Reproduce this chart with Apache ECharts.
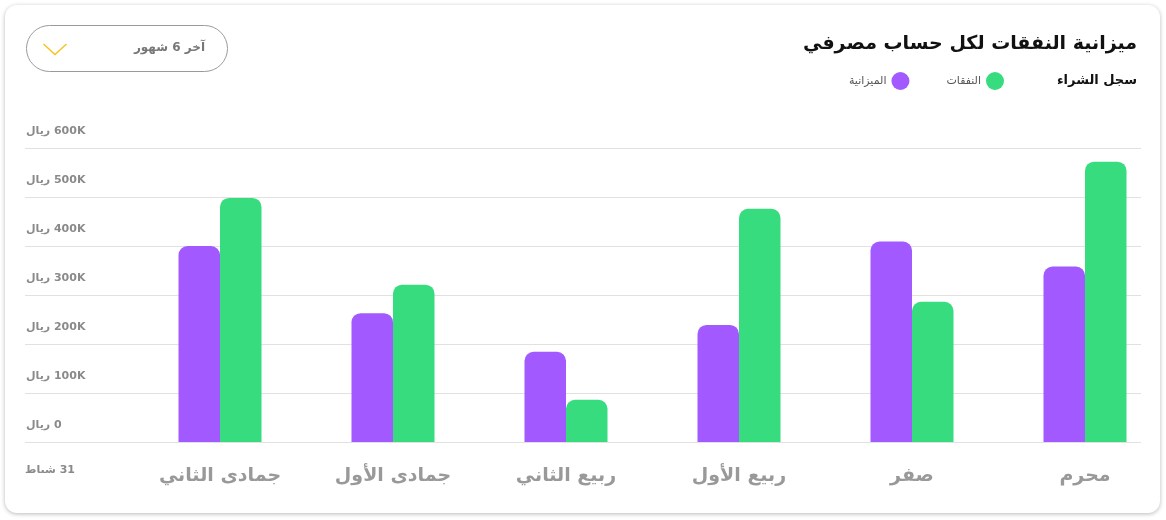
<!DOCTYPE html>
<html>
<head>
<meta charset="utf-8">
<script src="https://cdn.jsdelivr.net/npm/echarts@6/dist/echarts.min.js"></script>
<style>
  html, body { margin:0; padding:0; background:#ffffff; width:1166px; height:520px; overflow:hidden; }
  #card { position:absolute; left:5px; top:5px; width:1155px; height:508px; border-radius:12px;
          background:#fff; box-shadow:0 1px 4px rgba(0,0,0,0.28); }
  #chart { position:absolute; left:0; top:0; width:1166px; height:520px; }
</style>
</head>
<body>
<div id="card"></div>
<div id="chart"></div>
<script>
// Data (values in thousands of riyal)
const categories = ['محرم', 'صفر', 'ربيع الأول', 'ربيع الثاني', 'جمادى الأول', 'جمادى الثاني'];
const budget   = [358, 409, 239, 184, 263, 400];   // الميزانية
const expenses = [572, 286, 476, 86, 321, 498];    // النفقات
const seriesNames = ['الميزانية', 'النفقات'];
const yTicks = [0, 100, 200, 300, 400, 500, 600];
const titleText = 'ميزانية النفقات لكل حساب مصرفي';
const legendTitle = 'سجل الشراء';
const periodText = 'آخر 6 شهور';
const bottomLabel = 'شباط\u200E 31';

const FONT = "'DejaVu Sans', sans-serif";
const chart = echarts.init(document.getElementById('chart'), null, { renderer: 'canvas' });

const option = {
  backgroundColor: 'transparent',
  animation: false,
  title: {
    text: titleText,
    right: 29, top: 35, padding: 0,
    textStyle: { fontFamily: FONT, fontSize: 19, fontWeight: 'bold', color: '#111' }
  },
  legend: {
    data: seriesNames,
    right: 157, top: 67,
    align: 'right',
    icon: 'circle',
    itemWidth: 18, itemHeight: 18,
    itemGap: 37,
    textStyle: { fontFamily: FONT, fontSize: 11, color: '#555' }
  },
  grid: [
    { left: 133.5, width: 1038, top: 148, bottom: 78, outerBoundsMode: 'none', containLabel: false },
    { left: 25, right: 25, top: 148, bottom: 78, outerBoundsMode: 'none', containLabel: false }
  ],
  xAxis: [
    {
      type: 'category', gridIndex: 0, data: categories, inverse: true,
      axisLine: { show: false }, axisTick: { show: false },
      axisLabel: { margin: 25, fontFamily: FONT, fontSize: 19, fontWeight: 'bold', color: '#999' }
    },
    { type: 'value', gridIndex: 1, show: false, min: 0, max: 1 }
  ],
  yAxis: [
    { type: 'value', gridIndex: 0, min: 0, max: 600, show: false },
    {
      type: 'value', gridIndex: 1, min: 0, max: 600, interval: 100,
      axisLine: { show: false }, axisTick: { show: false },
      splitLine: { lineStyle: { color: '#e1e1e1', width: 1 } },
      axisLabel: {
        inside: true, margin: 1, align: 'left', verticalAlign: 'bottom',
        padding: [0, 0, 11, 0],
        fontFamily: FONT, fontSize: 11, fontWeight: 'bold', color: '#8a8a8a',
        formatter: v => 'ريال\u200E ' + (v === 0 ? '0' : v + 'K')
      }
    }
  ],
  series: [
    {
      name: seriesNames[0], type: 'bar', xAxisIndex: 0, yAxisIndex: 0,
      data: budget, barWidth: 41.5, barGap: '0%',
      itemStyle: { color: '#a259ff', borderRadius: [9, 9, 0, 0] }
    },
    {
      name: seriesNames[1], type: 'bar', xAxisIndex: 0, yAxisIndex: 0,
      data: expenses, barWidth: 41.5, barGap: '0%',
      itemStyle: { color: '#36dc7e', borderRadius: [9, 9, 0, 0] }
    }
  ],
  graphic: [
    { type: 'text', x: 1137, y: 81,
      style: { text: legendTitle, font: 'bold 13px ' + FONT, fill: '#111', align: 'right', verticalAlign: 'middle' } },
    { type: 'rect', shape: { x: 26.5, y: 25.5, width: 201, height: 46, r: 23 },
      style: { fill: 'none', stroke: '#9a9a9a', lineWidth: 1 } },
    { type: 'text', x: 205, y: 48,
      style: { text: periodText, font: 'bold 12px ' + FONT, fill: '#777', align: 'right', verticalAlign: 'middle' } },
    { type: 'polyline', shape: { points: [[43.5, 44], [55, 54.5], [66.5, 44]] },
      style: { stroke: '#f6c324', lineWidth: 1.5, fill: 'none' } },
    { type: 'text', x: 25, y: 470,
      style: { text: bottomLabel, font: 'bold 11px ' + FONT, fill: '#8a8a8a', align: 'left', verticalAlign: 'middle' } },
    { type: 'rect', shape: { x: 20, y: 473, width: 60, height: 14 }, style: { fill: '#fff' } }
  ]
};
chart.setOption(option);
</script>
</body>
</html>
